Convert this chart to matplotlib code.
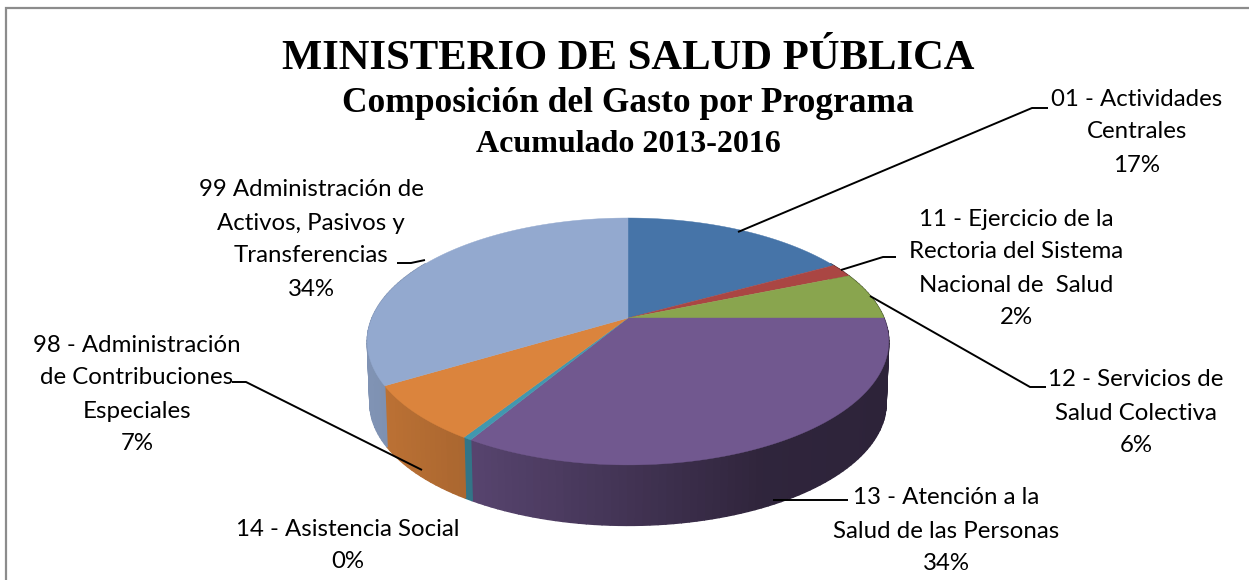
import matplotlib
matplotlib.use("Agg")
import matplotlib.pyplot as plt
import numpy as np

programas = [
    ["01 - Actividades", "Centrales"],
    ["11 - Ejercicio de la", "Rectoria del Sistema", "Nacional de  Salud"],
    ["12 - Servicios de", "Salud Colectiva"],
    ["13 - Atención a la", "Salud de las Personas"],
    ["14 - Asistencia Social"],
    ["98 - Administración", "de Contribuciones", "Especiales"],
    ["99 Administración de", "Activos, Pasivos y", "Transferencias"],
]
porcentajes = [17.0, 1.8, 6.2, 33.6, 0.45, 7.35, 33.6]
colores = ["#4674A8", "#AA4643", "#89A54E", "#71588F", "#4198AF", "#DB843D", "#93A9CF"]
titulos = ["MINISTERIO DE SALUD PÚBLICA", "Composición del Gasto por Programa", "Acumulado 2013-2016"]

# label placement in pixels: centre x, first line y
label_pos = [(1137, 99), (1016, 219), (1136, 380), (946, 498), (348, 529), (137, 345), (311, 190)]
leaders = [
    [(738, 232), (1032, 108), (1048, 108)],
    [(841, 270), (883, 257), (896, 257)],
    [(870, 296), (1030, 387), (1046, 387)],
    [(773, 500), (848, 500)],
    [(422, 470), (246, 382), (232, 382)],
    [(425, 260), (411, 263), (397, 263)],
]

CX, CY = 628, 318
RX, RY = 256, 119
PERSP = 0.19
DEPTH, SHRINK = 62, 0.99


def project(theta, drop=0.0, scale=1.0):
    u, v = np.sin(theta), np.cos(theta)
    w = 1 + PERSP * v
    return CX + scale * RX * u / w, CY + drop - scale * RY * v / w


fig = plt.figure(figsize=(12.49, 5.8), dpi=100, facecolor="white")
ax = fig.add_axes([0, 0, 1, 1])
ax.set_xlim(0, 1249)
ax.set_ylim(580, 0)
ax.axis("off")

# only the top and left of the frame are in the picture
ax.plot([6, 6, 1249], [580, 7.5, 7.5], color="#8c8c8c", lw=1.6, solid_joinstyle="miter")

edges = 2 * np.pi * np.cumsum([0] + porcentajes) / sum(porcentajes)

# side wall first, split in thin strips for the left to right shading
for i, color in enumerate(colores):
    lo, hi = max(edges[i], np.pi / 3), min(edges[i + 1], 5 * np.pi / 3)
    if hi <= lo:
        continue
    steps = np.linspace(lo, hi, max(2, int((hi - lo) * 40)))
    for a, b in zip(steps[:-1], steps[1:]):
        xa, ya = project(a)
        xb, yb = project(b)
        xc, yc = project(b, DEPTH, SHRINK)
        xd, yd = project(a, DEPTH, SHRINK)
        f = np.interp((xa + xb) / 2, [370, 480, 600, 760, 880], [0.87, 0.76, 0.62, 0.42, 0.4])
        c = np.array(matplotlib.colors.to_rgb(color)) * f
        ax.fill([xa, xb, xc, xd], [ya, yb, yc, yd], color=c, lw=1.0, zorder=2)

# top of the pie
for i, color in enumerate(colores):
    t = np.linspace(edges[i], edges[i + 1], 80)
    x, y = project(t)
    ax.fill(np.r_[CX, x], np.r_[CY, y], color=color, lw=0.3, zorder=3)

for pts in leaders:
    xs, ys = zip(*pts)
    ax.plot(xs, ys, color="black", lw=1.4, zorder=4, solid_capstyle="butt")

for lines, val, (x, y) in zip(programas, porcentajes, label_pos):
    for k, line in enumerate(lines + [f"{val:.0f}%"]):
        ax.text(x, y + k * 33, line, ha="center", va="center", family="Lato", fontsize=17.3, color="black", zorder=5)

for text, y, size in zip(titulos, [59, 103, 144], [30.7, 25.5, 23]):
    ax.text(CX, y, text, ha="center", va="center", family="Liberation Serif", weight="bold", fontsize=size, color="black")

fig.savefig("out.png", dpi=100, facecolor="white")
